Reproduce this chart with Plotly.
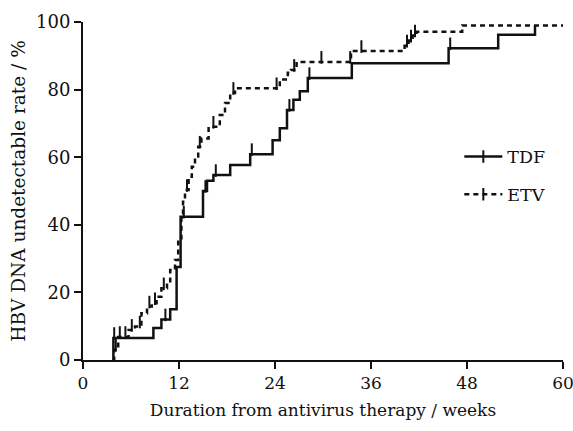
import numpy as np
import plotly.graph_objects as go

# Kaplan-Meier style cumulative rates (weeks, %)
tdf_weeks = [3.7, 3.8, 8.8, 9.8, 10.9, 11.7, 12.2, 15.0, 15.5, 16.3, 18.4, 20.9,
             23.7, 24.6, 25.5, 26.3, 27.1, 28.1, 33.6, 45.7, 51.9, 56.5]
tdf_rate = [0, 6.5, 9.5, 12.0, 15.0, 27.5, 42.4, 50.0, 53.0, 54.7, 57.7, 60.9,
            65.0, 68.6, 74.0, 77.0, 79.5, 83.4, 87.8, 92.2, 96.2, 99.0]
tdf_censor = [3.9, 10.3, 12.6, 15.3, 16.6, 21.1, 25.8, 28.3, 45.9, 56.6]

etv_weeks = [3.7, 3.9, 4.4, 5.7, 6.5, 7.3, 8.0, 8.6, 9.2, 9.8, 10.5, 10.9, 11.5,
             11.9, 12.3, 12.5, 12.75, 13.2, 13.6, 14.0, 14.4, 14.8, 15.7, 17.1,
             17.75, 18.4, 19.0, 24.6, 25.6, 26.0, 26.7, 33.5, 40.2, 40.7, 41.2,
             41.7, 47.4, 60.0]
etv_rate = [0, 3.0, 6.8, 8.9, 9.9, 13.8, 15.8, 16.8, 18.7, 21.2, 22.7, 26.6, 29.6,
            36.0, 43.4, 46.8, 50.3, 54.2, 57.2, 60.2, 63.1, 65.5, 69.0, 72.5,
            76.0, 79.0, 80.4, 83.0, 85.0, 85.8, 88.2, 91.4, 93.0, 94.5, 96.0,
            97.1, 99.0, 99.0]
etv_censor = [4.1, 4.6, 5.3, 6.1, 7.1, 8.3, 9.0, 10.1, 13.0, 14.6, 16.3, 18.8,
              24.2, 26.4, 29.8, 33.4, 34.8, 40.5, 41.0, 41.5, 47.4, 56.5, 60.0]

x_ticks = [0, 12, 24, 36, 48, 60]
y_ticks = [0, 20, 40, 60, 80, 100]

TICK_SIZE = 9          # censor tick length in px
Y_PX_PER_UNIT = 338 / 100.0   # plot height / y range
TICK_LIFT = TICK_SIZE / 2 / Y_PX_PER_UNIT  # make ticks stand on the curve


def step_at(weeks, rate, times):
    w = np.asarray(weeks)
    r = np.asarray(rate)
    idx = np.searchsorted(w, np.asarray(times), side="right") - 1
    return r[np.clip(idx, 0, len(r) - 1)]


FONT = "DejaVu Serif, serif"
BLACK = "#111111"
DASH = "5px,4px"

fig = go.Figure()

# TDF curve
fig.add_trace(go.Scatter(x=tdf_weeks, y=tdf_rate, mode="lines", line_shape="hv",
                         line=dict(color=BLACK, width=2.5), showlegend=False,
                         cliponaxis=False))
fig.add_trace(go.Scatter(x=tdf_censor,
                         y=step_at(tdf_weeks, tdf_rate, tdf_censor) + TICK_LIFT,
                         mode="markers", showlegend=False, cliponaxis=False,
                         marker=dict(symbol="line-ns", size=TICK_SIZE,
                                     line=dict(color=BLACK, width=2))))
# ETV curve
fig.add_trace(go.Scatter(x=etv_weeks, y=etv_rate, mode="lines", line_shape="hv",
                         line=dict(color=BLACK, width=2.5, dash=DASH),
                         showlegend=False, cliponaxis=False))
fig.add_trace(go.Scatter(x=etv_censor,
                         y=step_at(etv_weeks, etv_rate, etv_censor) + TICK_LIFT,
                         mode="markers", showlegend=False, cliponaxis=False,
                         marker=dict(symbol="line-ns", size=TICK_SIZE,
                                     line=dict(color=BLACK, width=2))))

# legend entries
fig.add_trace(go.Scatter(x=[None], y=[None], name="TDF", mode="lines+markers",
                         legendgroup="a",
                         line=dict(color=BLACK, width=2.5),
                         marker=dict(symbol="line-ns", size=TICK_SIZE,
                                     line=dict(color=BLACK, width=2))))
fig.add_trace(go.Scatter(x=[None], y=[None], name="ETV", mode="lines+markers",
                         legendgroup="b",
                         line=dict(color=BLACK, width=2.5, dash=DASH),
                         marker=dict(symbol="line-ns", size=TICK_SIZE,
                                     line=dict(color=BLACK, width=2))))

fig.update_layout(
    width=573, height=431,
    margin=dict(l=83, r=10, t=22, b=71),
    paper_bgcolor="white", plot_bgcolor="white",
    font=dict(family=FONT, size=16, color=BLACK),
    legend=dict(x=0.784, y=0.655, xanchor="left", yanchor="top",
                bgcolor="rgba(0,0,0,0)", borderwidth=0,
                traceorder="grouped", tracegroupgap=12, itemwidth=38,
                font=dict(family=FONT, size=17.5, color=BLACK)),
    xaxis=dict(range=[0, 60], tickvals=x_ticks, ticktext=[str(v) for v in x_ticks],
               showgrid=False, zeroline=False, showline=True, linecolor=BLACK,
               linewidth=2, ticks="outside", ticklen=7, tickwidth=2, tickcolor=BLACK,
               automargin=False, ticklabeloverflow="allow",
               tickfont=dict(family=FONT, size=17, color=BLACK),
               title=dict(text="Duration from antivirus therapy / weeks",
                          font=dict(family=FONT, size=17, color=BLACK), standoff=12)),
    yaxis=dict(range=[0, 100], tickvals=y_ticks, ticktext=[str(v) for v in y_ticks],
               showgrid=False, zeroline=False, showline=True, linecolor=BLACK,
               linewidth=2, ticks="outside", ticklen=7, tickwidth=2, tickcolor=BLACK,
               automargin=False,
               tickfont=dict(family=FONT, size=18, color=BLACK),
               title=dict(text="HBV DNA undetectable rate / %",
                          font=dict(family=FONT, size=18.5, color=BLACK), standoff=6)),
)

fig.write_html("out.html", config={"displayModeBar": False},
               post_script="document.body.style.margin='0';document.body.style.padding='0';")
